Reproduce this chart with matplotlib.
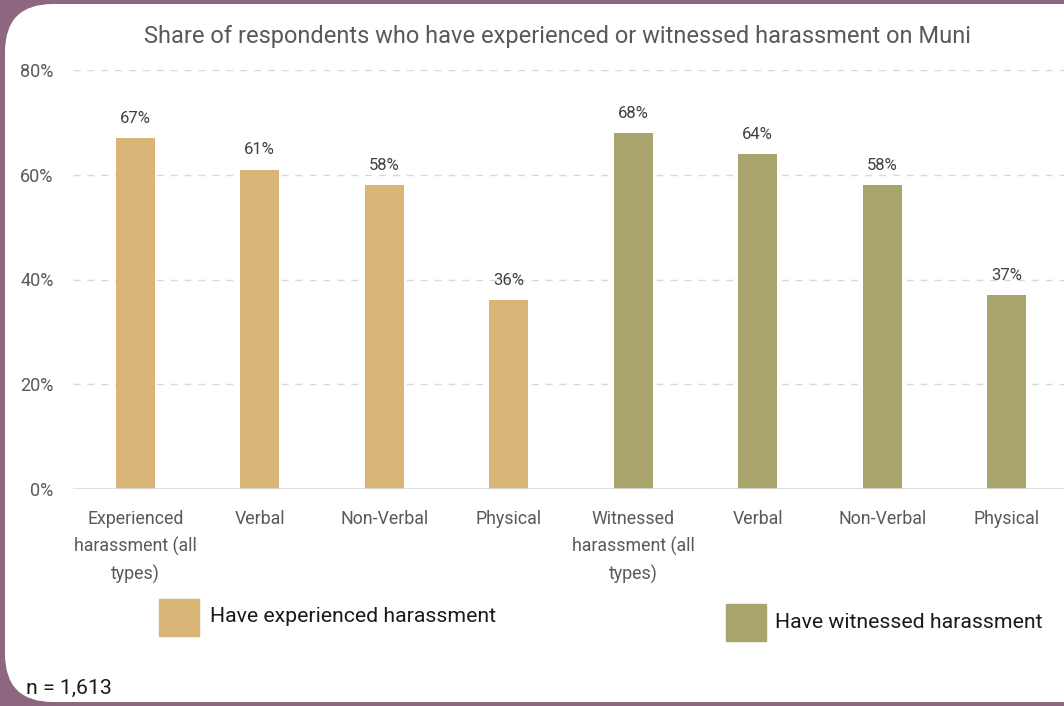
import matplotlib.pyplot as plt
from matplotlib.patches import FancyBboxPatch

plt.rcParams['font.family'] = ['Roboto', 'DejaVu Sans']

categories = ['Experienced\nharassment (all\ntypes)', 'Verbal', 'Non-Verbal', 'Physical',
              'Witnessed\nharassment (all\ntypes)', 'Verbal', 'Non-Verbal', 'Physical']
values = [67, 61, 58, 36, 68, 64, 58, 37]
groups = ['experienced'] * 4 + ['witnessed'] * 4
yticks = [0, 20, 40, 60, 80]
legend_labels = ['Have experienced harassment', 'Have witnessed harassment']

colors = {'experienced': '#D9B577', 'witnessed': '#A8A46B'}
grey = '#595959'

fig = plt.figure(figsize=(10.64, 7.06), dpi=100, facecolor='#8E6680')
W, H = 1064, 706

# white rounded card behind everything
card = FancyBboxPatch((5 / W, 4 / H), 1.2, 698 / H,
                      boxstyle='round,pad=0,rounding_size=0.045',
                      transform=fig.transFigure, facecolor='white',
                      edgecolor='none', mutation_aspect=W / H, zorder=-5)
fig.patches.append(card)

ax = fig.add_axes([73 / W, 1 - 489 / H, (W - 73) / W, (489 - 70) / H])
ax.set_facecolor('none')

x = range(len(values))
ax.bar(x, values, width=0.31, color=[colors[g] for g in groups], zorder=3)
for xi, v in zip(x, values):
    ax.text(xi, v + 2.3, f'{v}%', ha='center', va='bottom', fontsize=12, color='#404040')

ax.set_ylim(0, 80)
ax.set_xlim(-0.5, 7.46)
ax.set_yticks(yticks)
ax.set_yticklabels([f'{t}%' for t in yticks], fontsize=13, color=grey)
ax.set_xticks(list(x))
ax.set_xticklabels(categories, fontsize=12.8, color=grey, linespacing=1.6, va='top')
ax.tick_params(axis='y', length=0, pad=14)
ax.tick_params(axis='x', length=0, pad=15)
for t in yticks[1:]:
    ax.axhline(t, color='#D9D9D9', lw=1, ls=(0, (5, 5)), zorder=1)
for s in ax.spines.values():
    s.set_visible(False)
ax.axhline(0, color='#D9D9D9', lw=1.2, zorder=4)

fig.text(558 / W, 1 - 36 / H,
         'Share of respondents who have experienced or witnessed harassment on Muni',
         ha='center', va='center', fontsize=17, color=grey)

# legend squares
fig.patches.append(plt.Rectangle((159 / W, 1 - 636 / H), 40 / W, 37 / H,
                                 transform=fig.transFigure, color=colors['experienced']))
fig.text(210 / W, 1 - 616 / H, legend_labels[0], fontsize=15.3, va='center', color='#1a1a1a')
fig.patches.append(plt.Rectangle((726 / W, 1 - 641 / H), 40 / W, 37 / H,
                                 transform=fig.transFigure, color=colors['witnessed']))
fig.text(775 / W, 1 - 623 / H, legend_labels[1], fontsize=15.3, va='center', color='#1a1a1a')

fig.text(26 / W, 1 - 688 / H, 'n = 1,613', fontsize=15.3, va='center', color='#1a1a1a')

fig.savefig('out.png', dpi=100, facecolor=fig.get_facecolor())
